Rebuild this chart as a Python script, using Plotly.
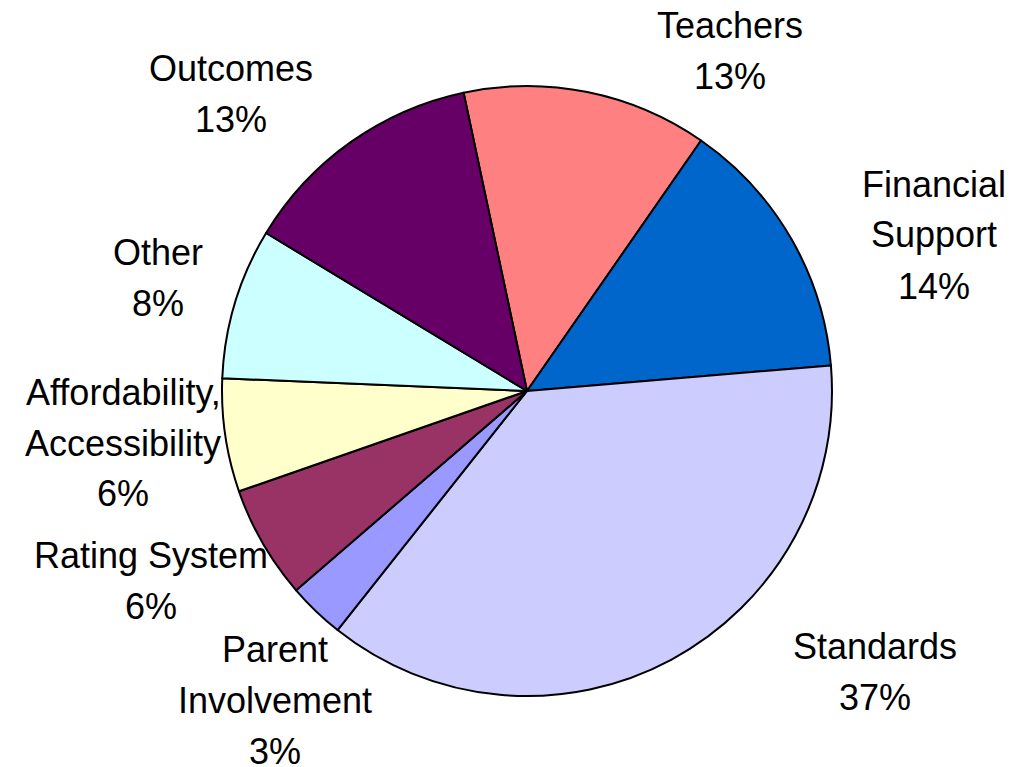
import plotly.graph_objects as go

# 数据
labels = ['Teachers', 'Financial Support', 'Standards', 'Parent Involvement',
          'Rating System', 'Affordability, Accessibility', 'Other', 'Outcomes']
values = [13, 14, 37, 3, 6, 6, 8, 13]
label_text = ['Teachers', 'Financial<br>Support', 'Standards', 'Parent<br>Involvement',
              'Rating System', 'Affordability,<br>Accessibility', 'Other', 'Outcomes']
colors = ['#FF8080', '#0066CC', '#CCCCFF', '#9999FF',
          '#993366', '#FFFFCC', '#CCFFFF', '#660066']

W, H = 1014, 767
# 标签中心位置（像素）
label_pos = [(722, 43), (926, 227), (867, 664), (267, 692),
             (143, 573), (115, 435), (150, 270), (223, 86)]
LINE_H = 51

fig = go.Figure(go.Pie(
    labels=labels,
    values=values,
    sort=False,
    direction='clockwise',
    rotation=-12,
    textinfo='none',
    hoverinfo='label+percent',
    marker=dict(colors=colors, line=dict(color='black', width=2)),
    domain=dict(x=[214 / W, 824 / W], y=[1 - 688 / H, 1 - 78 / H]),
))

total = sum(values)
for txt, v, (cx, cy) in zip(label_text, values, label_pos):
    lines = txt.split('<br>') + [f'{round(v / total * 100)}%']
    n = len(lines)
    for i, line in enumerate(lines):
        y = cy + (i - (n - 1) / 2) * LINE_H
        fig.add_annotation(
            x=cx / W, y=1 - y / H, xref='paper', yref='paper',
            text=line, borderpad=0,
            showarrow=False, xanchor='center', yanchor='middle', align='center',
            font=dict(family='Liberation Sans, Arial', size=36, color='black'),
        )

fig.update_layout(
    width=W, height=H,
    margin=dict(l=0, r=0, t=0, b=0),
    showlegend=False,
    paper_bgcolor='white',
    plot_bgcolor='white',
)

fig.write_html('out.html')
